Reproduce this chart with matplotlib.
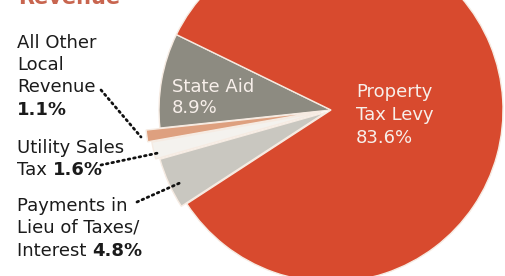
import matplotlib
matplotlib.use("Agg")
import matplotlib.pyplot as plt

ALTO = 276

fuentes = ["State Aid", "All Other Local Revenue", "Utility Sales Tax",
           "Payments in Lieu of Taxes/Interest", "Property Tax Levy"]
porcentajes = [8.9, 1.1, 1.6, 4.8, 83.6]
colores = ["#8d8b81", "#dea07f", "#f4f2ee", "#c9c7c0", "#d84a2e"]
separacion = [0, 14, 10, 6, 0]


def Y(y):
    # posiciones leidas desde arriba, el eje va hacia arriba
    return ALTO - y


fig = plt.figure(figsize=(5.06, 2.76), dpi=100)
ax = fig.add_axes([0, 0, 1, 1])
ax.pie(porcentajes, colors=colores, startangle=154, center=(331, Y(110)),
       radius=172, explode=separacion,
       wedgeprops=dict(edgecolor="#f6ebe2", linewidth=1))
ax.set_xlim(0, 506)
ax.set_ylim(0, ALTO)
ax.set_aspect("equal")
ax.axis("off")

# titulo cortado arriba
ax.text(18, Y(4), "Revenue", color="#c8654f", fontsize=15, fontweight="bold",
        va="baseline")

# etiquetas dentro del pastel
blanco = "#f7efea"
for texto, y in [("State Aid", 92), ("8.9%", 113)]:
    ax.text(172, Y(y), texto, color=blanco, fontsize=13, va="baseline")
for texto, y in [("Property", 97), ("Tax Levy", 120), ("83.6%", 143)]:
    ax.text(356, Y(y), texto, color=blanco, fontsize=13, va="baseline")

# etiquetas de la izquierda: (texto normal, texto en negrita, linea base)
negro = "#1b1b1b"
lineas = [
    ("All Other", "", 48), ("Local", "", 70), ("Revenue", "", 92), ("", "1.1%", 115),
    ("Utility Sales", "", 153), ("Tax ", "1.6%", 175),
    ("Payments in", "", 211), ("Lieu of Taxes/", "", 233), ("Interest ", "4.8%", 256),
]
fig.canvas.draw()
render = fig.canvas.get_renderer()
for normal, negrita, y in lineas:
    x = 17
    if normal:
        t = ax.text(x, Y(y), normal, color=negro, fontsize=13, va="baseline")
        x = t.get_window_extent(render).x1
    if negrita:
        ax.text(x, Y(y), negrita, color=negro, fontsize=13, fontweight="bold",
                va="baseline")

# lineas punteadas hacia las porciones
guias = [((101, 90), (141, 137)), ((101, 165), (158, 153)), ((137, 202), (182, 182))]
for (x0, y0), (x1, y1) in guias:
    ax.plot([x0, x1], [Y(y0), Y(y1)], color="#111111", linewidth=2,
            linestyle=(0, (0.6, 1.4)), dash_capstyle="round")

fig.savefig("out.png", dpi=100)
